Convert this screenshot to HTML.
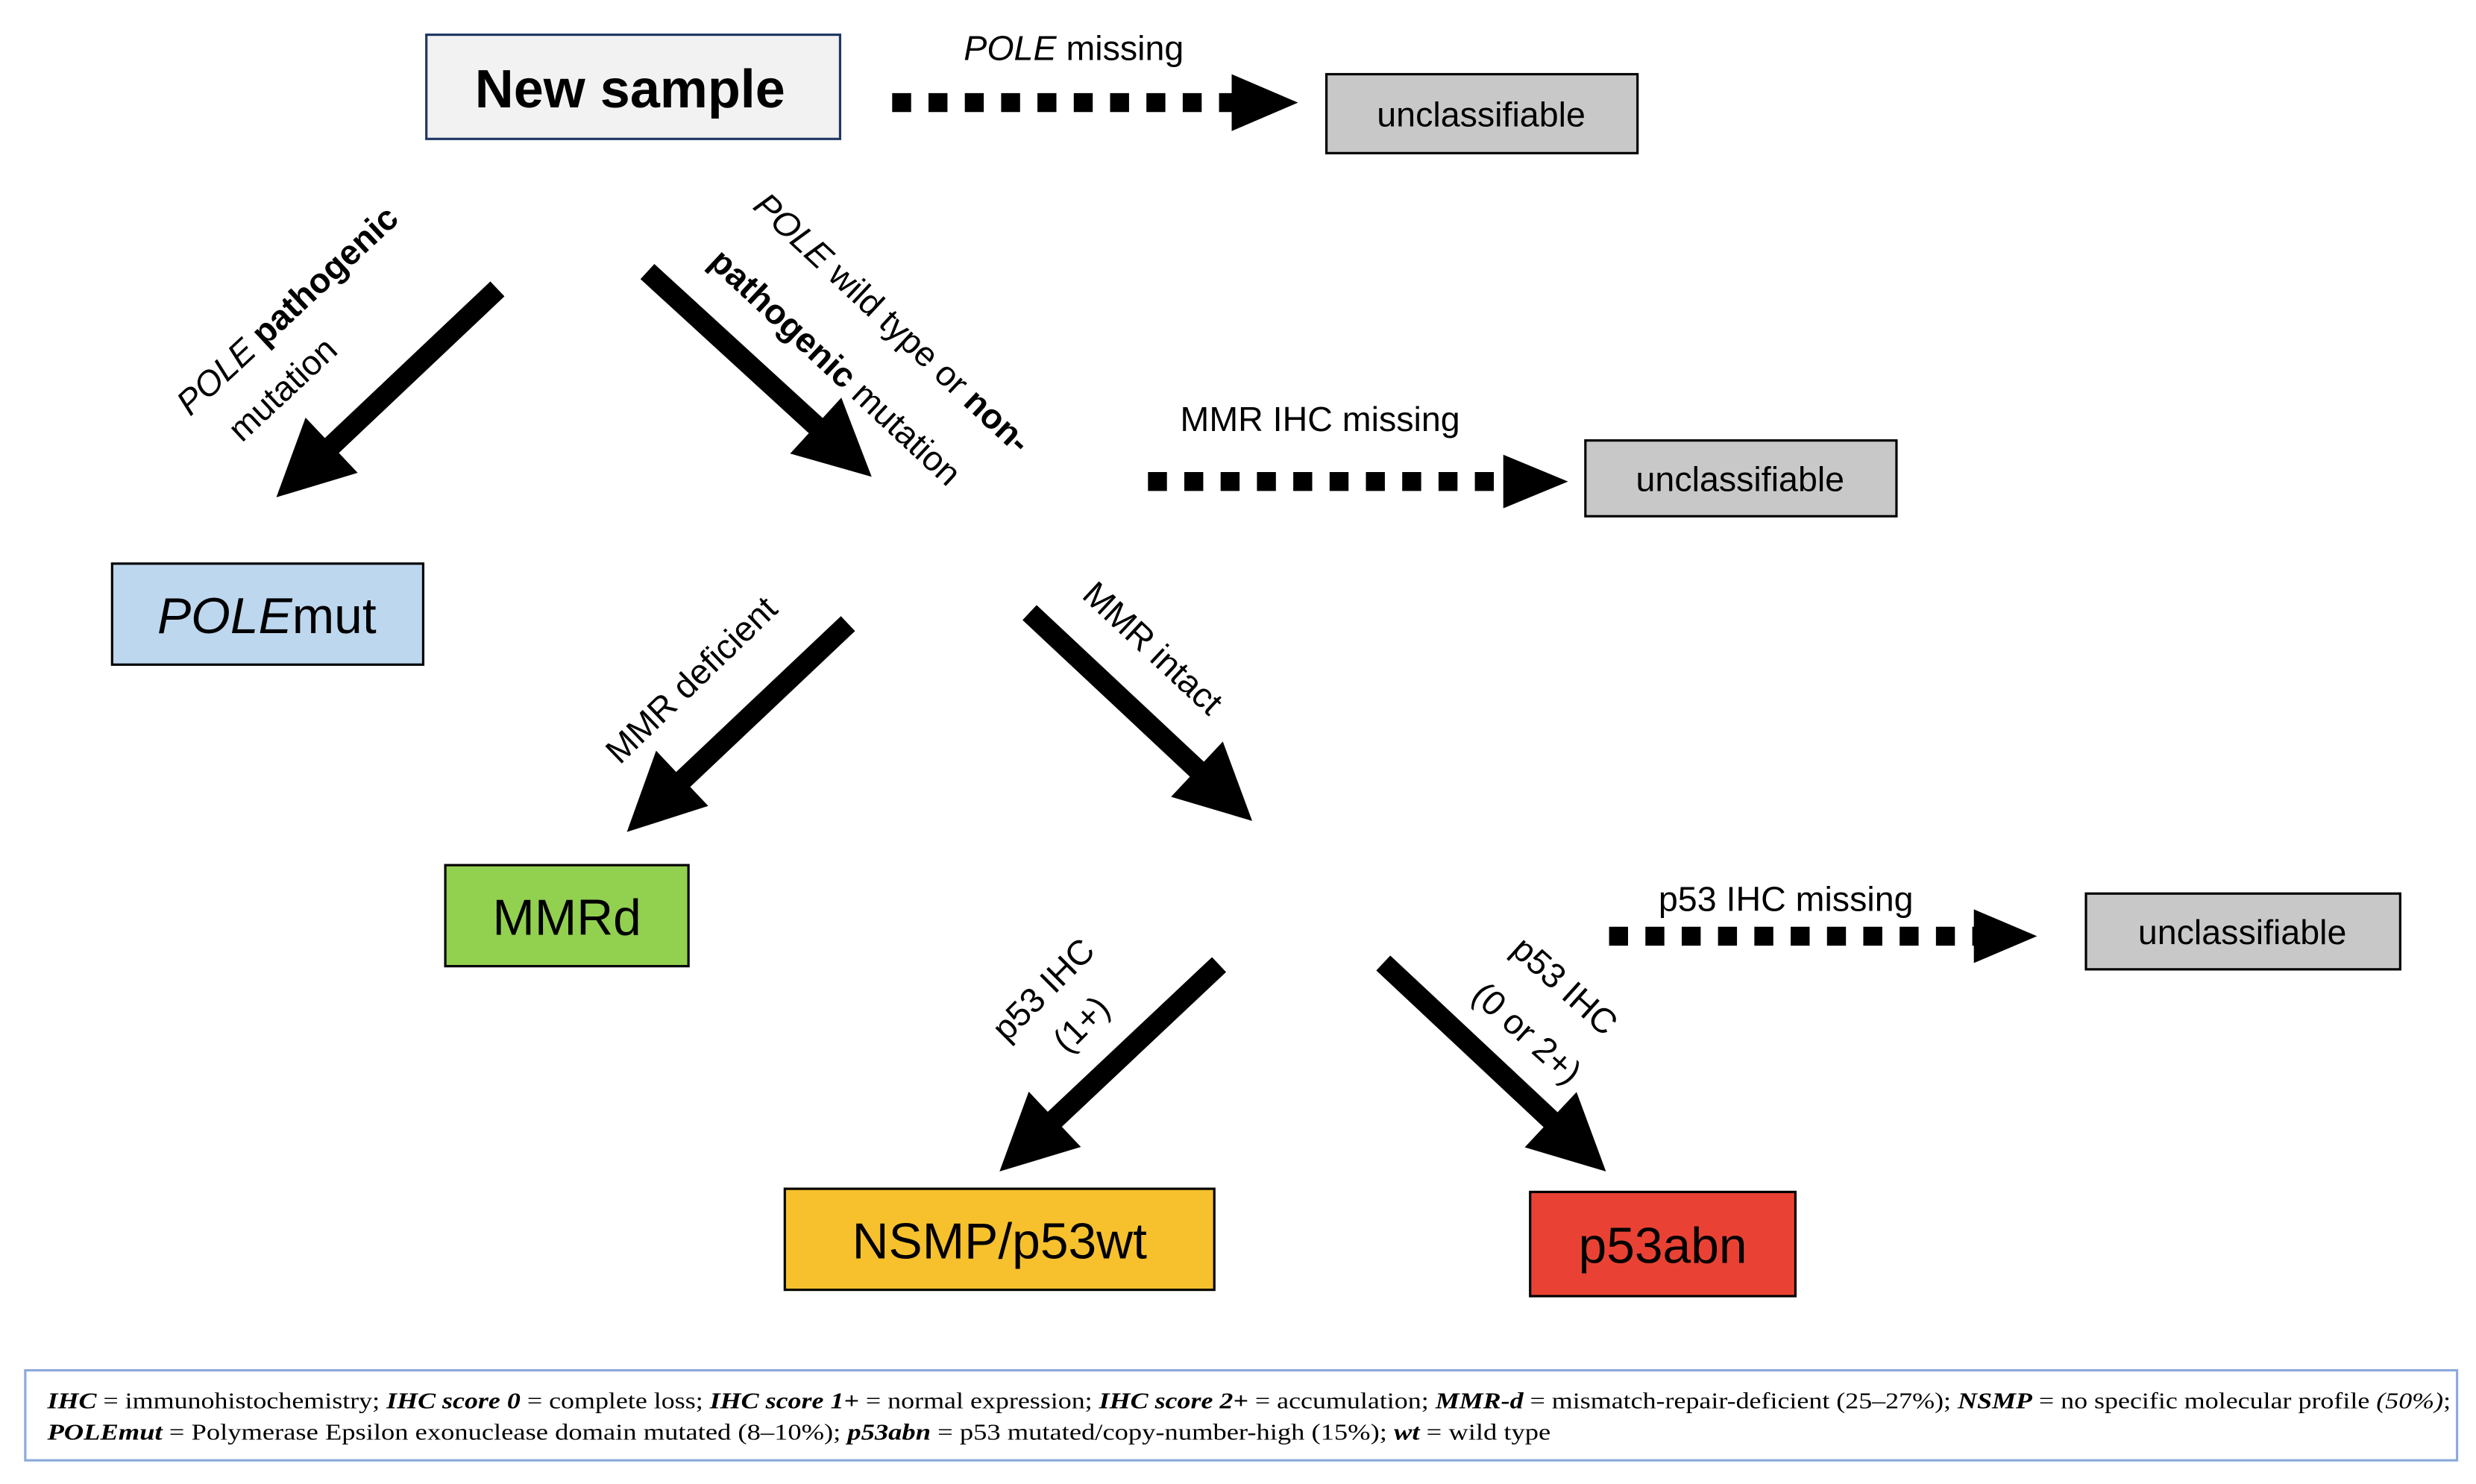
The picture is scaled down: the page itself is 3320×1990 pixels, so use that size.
<!DOCTYPE html>
<html><head><meta charset="utf-8"><style>
html,body{margin:0;padding:0;background:#fff;}
svg{display:block;}
text{font-family:"Liberation Sans",sans-serif;}
text.serif{font-family:"Liberation Serif",serif;}
</style></head><body>
<svg width="3320" height="1990" viewBox="0 0 1568 940" preserveAspectRatio="none" xmlns="http://www.w3.org/2000/svg">
<rect width="1568" height="940" fill="#fff"/>
<rect x="270" y="22" width="262" height="66" fill="#f2f2f2" stroke="#1f3864" stroke-width="1.5"/>
<text x="399" y="68" font-size="34" font-weight="bold" text-anchor="middle">New sample</text>

<rect x="840" y="47" width="197" height="50" fill="#c8c8c8" stroke="#000" stroke-width="1.5"/>
<text x="938" y="80" font-size="22" text-anchor="middle">unclassifiable</text>
<rect x="1004" y="279" width="197" height="48" fill="#c8c8c8" stroke="#000" stroke-width="1.5"/>
<text x="1102" y="311" font-size="22" text-anchor="middle">unclassifiable</text>
<rect x="1321" y="566" width="199" height="48" fill="#c8c8c8" stroke="#000" stroke-width="1.5"/>
<text x="1420" y="598" font-size="22" text-anchor="middle">unclassifiable</text>

<rect x="71" y="357" width="197" height="64" fill="#bdd7ee" stroke="#000" stroke-width="1.5"/>
<text x="169" y="401" font-size="32" text-anchor="middle"><tspan font-style="italic">POLE</tspan>mut</text>
<rect x="282" y="548" width="154" height="64" fill="#92d050" stroke="#000" stroke-width="1.5"/>
<text x="359" y="592" font-size="32" text-anchor="middle">MMRd</text>
<rect x="497" y="753" width="272" height="64" fill="#f7c12d" stroke="#000" stroke-width="1.5"/>
<text x="633" y="797" font-size="32" text-anchor="middle">NSMP/p53wt</text>
<rect x="969" y="755" width="168" height="66" fill="#e94234" stroke="#000" stroke-width="1.5"/>
<text x="1053" y="800" font-size="32" text-anchor="middle">p53abn</text>

<text x="680" y="38" font-size="22" text-anchor="middle"><tspan font-style="italic">POLE</tspan> missing</text>
<line x1="565" y1="65" x2="782" y2="65" stroke="#000" stroke-width="12" stroke-dasharray="12 11"/>
<polygon points="780,47 780,83 822,65" fill="#000"/>
<text x="836" y="273" font-size="22" text-anchor="middle">MMR IHC missing</text>
<line x1="727" y1="305" x2="954" y2="305" stroke="#000" stroke-width="12" stroke-dasharray="12 11"/>
<polygon points="952,288 952,322 993,305" fill="#000"/>
<text x="1131" y="577" font-size="22" text-anchor="middle">p53 IHC missing</text>
<line x1="1019" y1="593" x2="1252" y2="593" stroke="#000" stroke-width="12" stroke-dasharray="12 11"/>
<polygon points="1250,576 1250,610 1290,593" fill="#000"/>

<g fill="#000" stroke="#000" stroke-width="13">
<line x1="315" y1="183" x2="204" y2="288"/>
<line x1="410" y1="172" x2="522.5" y2="275"/>
<line x1="537" y1="395" x2="426" y2="500"/>
<line x1="652" y1="388" x2="763.8" y2="492.7"/>
<line x1="772" y1="611" x2="662" y2="714.6"/>
<line x1="876" y1="610" x2="987.8" y2="714.7"/>
</g>
<g fill="#000">
<polygon points="175,315 226.5,299.5 193.5,264.5"/>
<polygon points="552,302 500.4,287.3 532.8,251.9"/>
<polygon points="397,527 448.5,510.5 415.5,475.5"/>
<polygon points="793,520 741.6,504.7 774.4,469.7"/>
<polygon points="633,742 684.5,726.5 651.5,691.5"/>
<polygon points="1017,742 965.6,726.7 998.4,691.7"/>
</g>

<g font-size="22" text-anchor="middle">
<text transform="translate(187,202) rotate(-43)"><tspan font-style="italic">POLE</tspan> <tspan font-weight="bold">pathogenic</tspan></text>
<text transform="translate(184,252) rotate(-43)">mutation</text>
<text transform="translate(560,210) rotate(43)"><tspan font-style="italic">POLE</tspan> wild type or <tspan font-weight="bold">non-</tspan></text>
<text transform="translate(524,238) rotate(43)"><tspan font-weight="bold">pathogenic</tspan> mutation</text>
<text transform="translate(443,436) rotate(-44)">MMR deficient</text>
<text transform="translate(725,416) rotate(43)">MMR intact</text>
<text transform="translate(666,632) rotate(-45)">p53 IHC</text>
<text transform="translate(690,654) rotate(-45)">(1+)</text>
<text transform="translate(986,630) rotate(42)">p53 IHC</text>
<text transform="translate(962,660) rotate(42)">(0 or 2+)</text>
</g>

<rect x="16" y="868" width="1540" height="57" fill="#fff" stroke="#8ea9db" stroke-width="1.5"/>
<g font-size="14.5">
<text class="serif" x="30" y="892" textLength="1522" lengthAdjust="spacingAndGlyphs"><tspan font-style="italic" font-weight="bold">IHC</tspan> = immunohistochemistry; <tspan font-style="italic" font-weight="bold">IHC score 0</tspan> = complete loss; <tspan font-style="italic" font-weight="bold">IHC score 1+</tspan> = normal expression; <tspan font-style="italic" font-weight="bold">IHC score 2+</tspan> = accumulation; <tspan font-style="italic" font-weight="bold">MMR-d</tspan> = mismatch-repair-deficient (25–27%); <tspan font-style="italic" font-weight="bold">NSMP</tspan> = no specific molecular profile <tspan font-style="italic">(50%)</tspan>;</text>
<text class="serif" x="30" y="912" textLength="952" lengthAdjust="spacingAndGlyphs"><tspan font-style="italic" font-weight="bold">POLEmut</tspan> = Polymerase Epsilon exonuclease domain mutated (8–10%); <tspan font-style="italic" font-weight="bold">p53abn</tspan> = p53 mutated/copy-number-high (15%); <tspan font-style="italic" font-weight="bold">wt</tspan> = wild type</text>
</g>
</svg>
</body></html>
